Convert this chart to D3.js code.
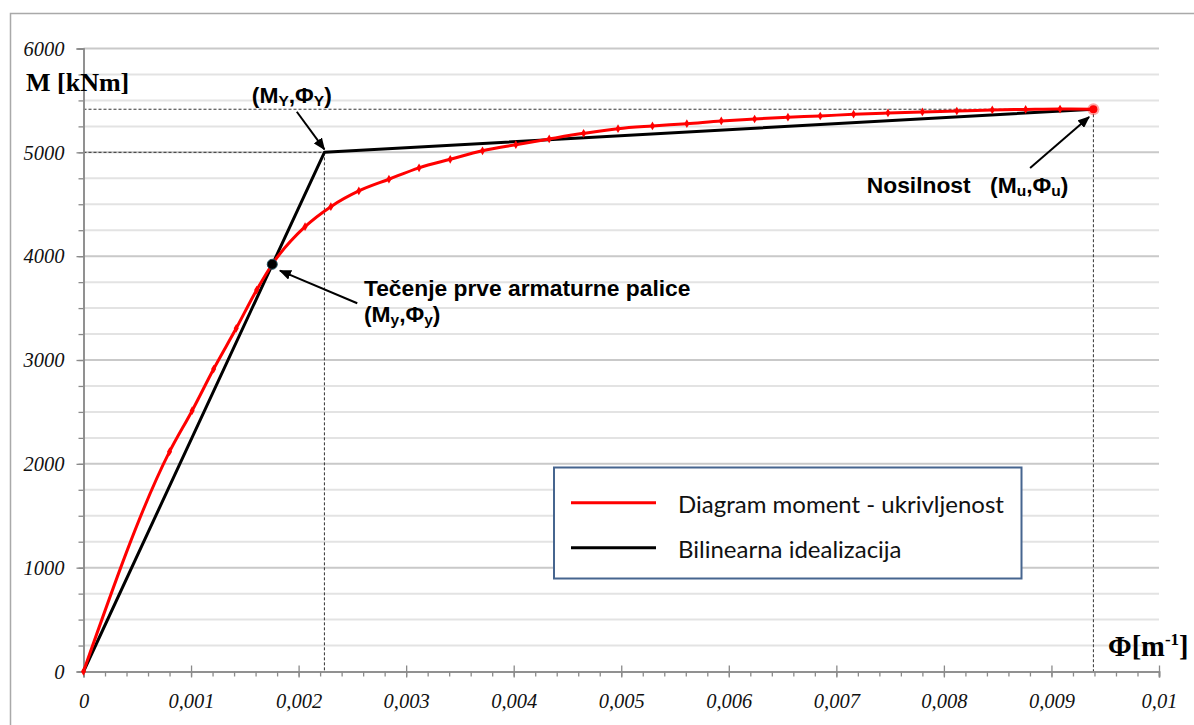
<!DOCTYPE html>
<html>
<head>
<meta charset="utf-8">
<script src="https://cdn.jsdelivr.net/npm/d3@7"></script>
<style>
  html, body { margin: 0; padding: 0; background: #fff; }
  svg { display: block; }
</style>
</head>
<body>
<svg id="chart" width="1194" height="725"></svg>
<script>
// Moment–curvature relation of the section (curvature Φ in 1/m, moment M in kNm)
const curvature = [0, 0.00080, 0.00101, 0.00121, 0.00142, 0.00161, 0.001755, 0.00206, 0.00230,
  0.00256, 0.00284, 0.00312, 0.00341, 0.00371, 0.00402, 0.00433, 0.00465, 0.00497, 0.00529,
  0.00561, 0.00593, 0.00624, 0.00655, 0.00685, 0.00716, 0.00748, 0.00780, 0.00812, 0.00845,
  0.00876, 0.00908, 0.00939];
const moment = [0, 2117, 2512, 2913, 3305, 3674, 3922, 4284, 4477,
  4628, 4741, 4851, 4933, 5015, 5074, 5129, 5183, 5228, 5254,
  5276, 5302, 5321, 5338, 5350, 5367, 5379, 5389, 5398, 5408,
  5413, 5417, 5415];

// Bilinear idealisation: origin, yield (ΦY, MY), capacity (Φu, Mu)
const bilinearPhi = [0, 0.00224, 0.00939];
const bilinearM = [0, 5000, 5415];

// Yield of the first reinforcing bar (Φy, My)
const firstYieldPhi = 0.001755;
const firstYieldM = 3922;

// Axis ticks
const xTickValues = [0, 0.001, 0.002, 0.003, 0.004, 0.005, 0.006, 0.007, 0.008, 0.009, 0.01];
const xTickLabels = ["0", "0,001", "0,002", "0,003", "0,004", "0,005", "0,006", "0,007", "0,008", "0,009", "0,01"];
const yTickValues = [0, 1000, 2000, 3000, 4000, 5000, 6000];
const yTickLabels = ["0", "1000", "2000", "3000", "4000", "5000", "6000"];

const seriesNames = ["Diagram moment - ukrivljenost", "Bilinearna idealizacija"];
const seriesColors = ["#ff0000", "#000000"];

const svg = d3.select("#chart");
const x = d3.scaleLinear().domain([0, 0.01]).range([83.5, 1159]);
const y = d3.scaleLinear().domain([0, 6000]).range([671.5, 48.5]);

const serif = "'Liberation Serif', 'Times New Roman', serif";
const arial = "'Liberation Sans', Arial, sans-serif";

// outer chart frame
svg.append("rect")
  .attr("x", 10.5).attr("y", 13.5).attr("width", 1300).attr("height", 800)
  .attr("fill", "#fff").attr("stroke", "#a9a9a9").attr("stroke-width", 1.5);

// horizontal gridlines every 250 kNm, darker on thousands
const gridVals = d3.range(250, 6001, 250);
svg.append("g").selectAll("line").data(gridVals).join("line")
  .attr("x1", x(0)).attr("x2", x(0.01))
  .attr("y1", d => y(d)).attr("y2", d => y(d))
  .attr("stroke", d => d % 1000 === 0 ? "#c9c9c9" : "#e3e3e3")
  .attr("stroke-width", 2);

// guide lines to the yield and capacity points
const guides = svg.append("g").attr("fill", "none").attr("stroke", "#333").attr("stroke-width", 1)
  .attr("stroke-dasharray", "3,2");
[1, 2].forEach(i => {
  guides.append("line")
    .attr("x1", x(0)).attr("x2", x(bilinearPhi[i]))
    .attr("y1", y(bilinearM[i])).attr("y2", y(bilinearM[i]));
  guides.append("line")
    .attr("x1", x(bilinearPhi[i])).attr("x2", x(bilinearPhi[i]))
    .attr("y1", y(bilinearM[i])).attr("y2", y(0));
});

// axes
const axisColor = "#8a8a8a";
const xMinor = svg.append("g").attr("transform", `translate(0,${y(0)})`)
  .call(d3.axisBottom(x).tickValues(d3.range(0, 0.01001, 0.0002)).tickSize(5).tickFormat(""));
const xAxis = svg.append("g").attr("transform", `translate(0,${y(0)})`)
  .call(d3.axisBottom(x).tickValues(xTickValues).tickSize(6).tickPadding(16)
    .tickFormat((d, i) => xTickLabels[i]));
xAxis.selectAll(".tick line").attr("y1", -6);
const yMinor = svg.append("g").attr("transform", `translate(${x(0)},0)`)
  .call(d3.axisLeft(y).tickValues(d3.range(0, 6001, 250)).tickSize(5).tickFormat(""));
const yAxis = svg.append("g").attr("transform", `translate(${x(0)},0)`)
  .call(d3.axisLeft(y).tickValues(yTickValues).tickSize(7).tickPadding(12)
    .tickFormat((d, i) => yTickLabels[i]));

[xMinor, xAxis, yMinor, yAxis].forEach(g => {
  g.select(".domain").attr("stroke", axisColor).attr("stroke-width", 1.5);
  g.selectAll(".tick line").attr("stroke", axisColor).attr("stroke-width", 1.3);
});
[xAxis, yAxis].forEach(g => {
  g.selectAll("text")
    .attr("font-family", serif).attr("font-style", "italic")
    .attr("font-size", 20.5).attr("fill", "#111");
});
xAxis.selectAll("text").attr("dy", null).attr("y", 36.5);
yAxis.selectAll("text").attr("dy", "0.33em").attr("x", -19);

// axis titles
svg.append("text").attr("x", 26).attr("y", 91)
  .attr("font-family", serif).attr("font-weight", "bold").attr("font-size", 26).attr("fill", "#000")
  .text("M [kNm]");
const phiTitle = svg.append("text").attr("x", 1108).attr("y", 656)
  .attr("font-family", serif).attr("font-weight", "bold").attr("font-size", 28.5).attr("fill", "#000");
phiTitle.append("tspan").text("Φ[m");
phiTitle.append("tspan").attr("font-size", 17).attr("dy", -11).text("-1");
phiTitle.append("tspan").attr("dy", 11).text("]");

// bilinear idealisation
const bilinear = bilinearPhi.map((p, i) => [p, bilinearM[i]]);
svg.append("path").datum(bilinear)
  .attr("fill", "none").attr("stroke", seriesColors[1]).attr("stroke-width", 3)
  .attr("stroke-linejoin", "round")
  .attr("d", d3.line().x(d => x(d[0])).y(d => y(d[1])));

// moment–curvature curve
const mk = curvature.map((p, i) => [p, moment[i]]);
svg.append("path").datum(mk)
  .attr("fill", "none").attr("stroke", seriesColors[0]).attr("stroke-width", 3)
  .attr("stroke-linejoin", "round")
  .attr("d", d3.line().x(d => x(d[0])).y(d => y(d[1])).curve(d3.curveMonotoneX));
svg.append("g").selectAll("path").data(mk.slice(0, -1)).join("path")
  .attr("transform", d => `translate(${x(d[0])},${y(d[1])})`)
  .attr("d", d3.symbol(d3.symbolDiamond, 22))
  .attr("fill", seriesColors[0]);
const last = mk[mk.length - 1];
svg.append("circle").attr("cx", x(last[0])).attr("cy", y(last[1])).attr("r", 6)
  .attr("fill", "#ff0000").attr("opacity", 0.35);
svg.append("circle").attr("cx", x(last[0])).attr("cy", y(last[1])).attr("r", 4)
  .attr("fill", "#ff0000");

// first yield point
svg.append("circle").attr("cx", x(firstYieldPhi)).attr("cy", y(firstYieldM)).attr("r", 5)
  .attr("fill", "#000").attr("stroke", "#1b4b5a").attr("stroke-width", 1);

// arrow marker
svg.append("defs").append("marker")
  .attr("id", "arrow").attr("markerUnits", "userSpaceOnUse")
  .attr("markerWidth", 12).attr("markerHeight", 10)
  .attr("refX", 11).attr("refY", 5).attr("orient", "auto")
  .append("path").attr("d", "M0,0 L12,5 L0,10 Z").attr("fill", "#000");

// annotations: target point in data units, arrow tail/head offsets and label position in px
const notes = [
  { phi: bilinearPhi[1], m: bilinearM[1], tail: [-27.6, -40.6], head: [0, -3],
    label: [-72.6, -49.6], lines: [[["(M", ""], ["Y", "sub"], [",Φ", ""], ["Y", "sub"], [")", ""]]] },
  { phi: bilinearPhi[2], m: bilinearM[2], tail: [-63.3, 58.7], head: [-4.3, 7.7],
    label: [-226.6, 84], lines: [[["Nosilnost", ""]]] },
  { phi: bilinearPhi[2], m: bilinearM[2], tail: null, head: null,
    label: [-103.3, 84], lines: [[["(M", ""], ["u", "sub"], [",Φ", ""], ["u", "sub"], [")", ""]]] },
  { phi: firstYieldPhi, m: firstYieldM, tail: [85, 39], head: [7.7, 6.4],
    label: [91.7, 31.4], lines: [[["Tečenje prve armaturne palice", ""]],
      [["(M", ""], ["y", "sub"], [",Φ", ""], ["y", "sub"], [")", ""]]] }
];
notes.forEach(n => {
  const px = x(n.phi), py = y(n.m);
  if (n.tail) {
    svg.append("line")
      .attr("x1", px + n.tail[0]).attr("y1", py + n.tail[1])
      .attr("x2", px + n.head[0]).attr("y2", py + n.head[1])
      .attr("stroke", "#000").attr("stroke-width", 2)
      .attr("marker-end", "url(#arrow)");
  }
  n.lines.forEach((ln, li) => {
    const t = svg.append("text")
      .attr("x", px + n.label[0]).attr("y", py + n.label[1] + li * 26)
      .attr("font-family", arial).attr("font-weight", "bold").attr("font-size", 22.8)
      .attr("fill", "#000");
    let shifted = false;
    ln.forEach(([s, kind]) => {
      const sp = t.append("tspan").text(s);
      if (kind === "sub") {
        sp.attr("font-size", 15.5).attr("dy", shifted ? 0 : 3);
        shifted = true;
      } else if (shifted) {
        sp.attr("dy", -3);
        shifted = false;
      }
    });
  });
});

// legend
const lg = svg.append("g");
lg.append("rect").attr("x", 554).attr("y", 467.5).attr("width", 467.5).attr("height", 111)
  .attr("fill", "#fff").attr("stroke", "#46658f").attr("stroke-width", 2);
seriesNames.forEach((name, i) => {
  const yy = 502.7 + i * 45;
  lg.append("line").attr("x1", 571).attr("x2", 656).attr("y1", yy).attr("y2", yy)
    .attr("stroke", seriesColors[i]).attr("stroke-width", 3);
  lg.append("text").attr("x", 678).attr("y", yy + 10)
    .attr("font-family", "Lato, 'Open Sans', sans-serif").attr("font-size", 24).attr("fill", "#111")
    .text(name);
});
</script>
</body>
</html>
